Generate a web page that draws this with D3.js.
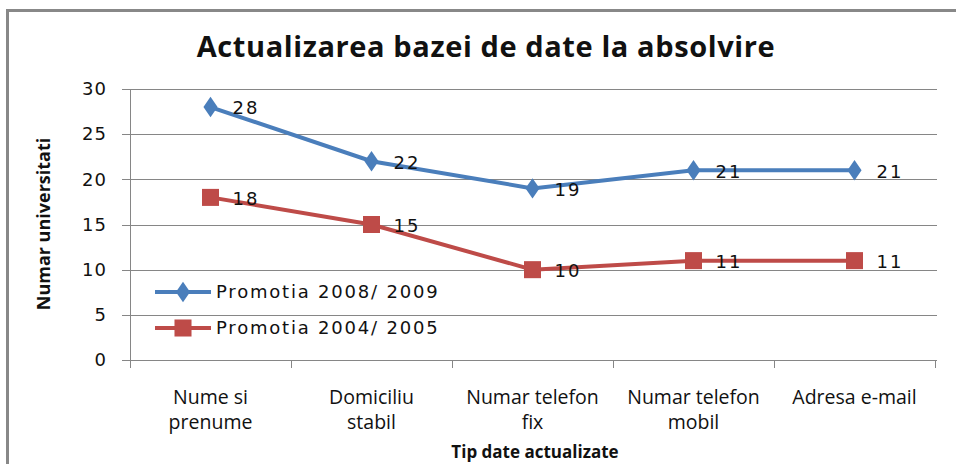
<!DOCTYPE html>
<html>
<head>
<meta charset="utf-8">
<script src="https://cdn.jsdelivr.net/npm/d3@7"></script>
<style>
  body { margin: 0; background: #fff; }
  svg { display: block; }
</style>
</head>
<body>
<script>
var width = 956,
    height = 464;

// data
var categories = [["Nume si", "prenume"], ["Domiciliu", "stabil"], ["Numar telefon", "fix"], ["Numar telefon", "mobil"], ["Adresa e-mail"]];
var seriesNames = ["Promotia 2008/ 2009", "Promotia 2004/ 2005"];
var promo2008 = [28, 22, 19, 21, 21];
var promo2004 = [18, 15, 10, 11, 11];
var yTicks = [0, 5, 10, 15, 20, 25, 30];

var colors = ["#4a7ebb", "#be4b48"];
var margin = { left: 130, right: 21, top: 89, bottom: 104 };

var svg = d3.select("body").append("svg")
    .attr("width", width)
    .attr("height", height);

// outer frame
svg.append("rect")
    .attr("x", 7.5).attr("y", 10.5)
    .attr("width", 960).attr("height", 470)
    .attr("fill", "none")
    .attr("stroke", "#888")
    .attr("stroke-width", 3);

var x = d3.scaleBand()
    .domain(d3.range(categories.length))
    .range([margin.left, width - margin.right]);

var y = d3.scaleLinear()
    .domain([0, 30])
    .range([height - margin.bottom, margin.top]);

// gridlines
svg.append("g")
    .selectAll("line")
    .data(yTicks)
    .enter().append("line")
    .attr("x1", margin.left - 8)
    .attr("x2", width - margin.right + 2)
    .attr("y1", d => Math.round(y(d)) + 0.5)
    .attr("y2", d => Math.round(y(d)) + 0.5)
    .style("stroke", "#868686")
    .style("stroke-width", 1);

// y axis line
svg.append("line")
    .attr("x1", margin.left + 0.5).attr("x2", margin.left + 0.5)
    .attr("y1", y(30)).attr("y2", y(0) + 8)
    .style("stroke", "#868686");

// x ticks
svg.append("g")
    .selectAll("line")
    .data(d3.range(categories.length + 1))
    .enter().append("line")
    .attr("x1", d => Math.round(margin.left + d * x.bandwidth()) + 0.5)
    .attr("x2", d => Math.round(margin.left + d * x.bandwidth()) + 0.5)
    .attr("y1", y(0))
    .attr("y2", y(0) + 8)
    .style("stroke", "#868686");

// y tick labels
svg.append("g")
    .selectAll("text")
    .data(yTicks)
    .enter().append("text")
    .attr("x", margin.left - 23)
    .attr("y", d => y(d))
    .attr("dy", "0.35em")
    .attr("text-anchor", "end")
    .style("font-family", "DejaVu Sans")
    .style("font-size", "18px")
    .style("letter-spacing", "1px")
    .style("fill", "#111")
    .text(d => d);

// x category labels
var xl = svg.append("g")
    .selectAll("text")
    .data(categories)
    .enter().append("text")
    .attr("x", (d, i) => x(i) + x.bandwidth() / 2)
    .attr("y", 404)
    .attr("text-anchor", "middle")
    .style("font-family", "'Open Sans'")
    .style("font-size", "19.5px")
    .style("fill", "#111");
xl.selectAll("tspan")
    .data(d => d)
    .enter().append("tspan")
    .attr("x", function() { return d3.select(this.parentNode).attr("x"); })
    .attr("dy", (d, i) => i === 0 ? 0 : 25)
    .text(d => d);

// titles
svg.append("text")
    .attr("x", 486).attr("y", 57)
    .attr("text-anchor", "middle")
    .style("font-family", "'Open Sans'")
    .style("font-weight", "bold")
    .style("font-size", "29px")
    .style("letter-spacing", "0.6px")
    .style("fill", "#111")
    .text("Actualizarea bazei de date la absolvire");

svg.append("text")
    .attr("x", 535).attr("y", 458)
    .attr("text-anchor", "middle")
    .style("font-family", "'Open Sans'")
    .style("font-weight", "bold")
    .style("font-size", "17px")
    .style("fill", "#111")
    .text("Tip date actualizate");

svg.append("text")
    .attr("transform", "translate(50," + 224 + ") rotate(-90)")
    .attr("text-anchor", "middle")
    .style("font-family", "'Open Sans'")
    .style("font-size", "18px")
    .style("font-weight", "bold")
    .style("fill", "#111")
    .text("Numar universitati");

// series
var series = [promo2008, promo2004];
var symbols = [d3.symbolDiamond, d3.symbolSquare];
var symbolSizes = [120, 290];

var line = d3.line()
    .x((d, i) => x(i) + x.bandwidth() / 2)
    .y(d => y(d));

series.forEach(function(vals, s) {
  svg.append("path")
      .datum(vals)
      .attr("d", line)
      .attr("fill", "none")
      .style("stroke", colors[s])
      .style("stroke-width", 4);

  svg.append("g")
      .selectAll("path")
      .data(vals)
      .enter().append("path")
      .attr("transform", (d, i) => "translate(" + (x(i) + x.bandwidth() / 2) + "," + y(d) + ")" + (s === 0 ? " scale(1.2,1)" : ""))
      .attr("d", d3.symbol().type(symbols[s]).size(symbolSizes[s]))
      .style("fill", colors[s]);

  svg.append("g")
      .selectAll("text")
      .data(vals)
      .enter().append("text")
      .attr("x", (d, i) => x(i) + x.bandwidth() / 2 + 22)
      .attr("y", d => y(d) + 1)
      .attr("dy", "0.35em")
      .style("font-family", "DejaVu Sans")
      .style("font-size", "18px")
      .style("letter-spacing", "2px")
      .style("fill", "#111")
      .text(d => d);
});

// legend
var legend = svg.append("g")
    .selectAll("g")
    .data(seriesNames)
    .enter().append("g")
    .attr("transform", (d, i) => "translate(155," + (292 + i * 36) + ")");

legend.append("line")
    .attr("x1", 0).attr("x2", 56)
    .style("stroke", (d, i) => colors[i])
    .style("stroke-width", 4);

legend.append("path")
    .attr("transform", (d, i) => "translate(28,0)" + (i === 0 ? " scale(1.2,1)" : ""))
    .attr("d", (d, i) => d3.symbol().type(symbols[i]).size(symbolSizes[i])())
    .style("fill", (d, i) => colors[i]);

legend.append("text")
    .attr("x", 61)
    .attr("dy", "0.35em")
    .style("font-family", "DejaVu Sans")
    .style("font-size", "18px")
    .style("letter-spacing", "1.8px")
    .style("fill", "#111")
    .text(d => d);
</script>
</body>
</html>
